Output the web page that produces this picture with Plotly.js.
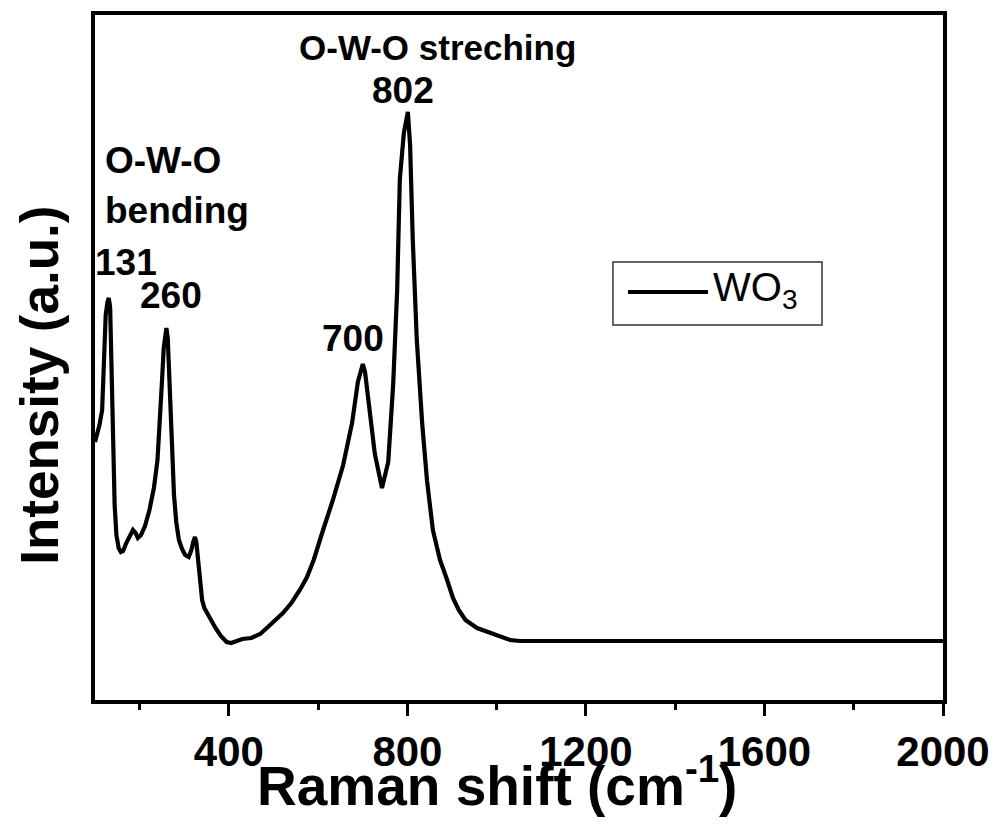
<!DOCTYPE html>
<html>
<head>
<meta charset="utf-8">
<script src="https://cdn.plot.ly/plotly-3.0.1.min.js"></script>
<style>html,body{margin:0;padding:0;background:#fff;}#chart{width:1003px;height:834px;}</style>
</head>
<body>
<div id="chart"></div>
<script>
// Raman shift (cm-1)
const ramanShift = [100,104,110,116,119,124,128,131,134,137,141,144,148,153,158,163,170,178,185,191,196,203,212,222,232,240,246,250,254,257,260,263,266,269,273,277,282,288,295,302,310,316,320,324,327,331,335,340,345,352,360,370,382,395,405,415,430,450,470,485,500,521,540,559,575,590,611,633,656,676,689,695,700,705,712,727,743,757,768,777,783,792,801,806,812,821,833,844,857,873,889,902,915,930,956,975,992,1010,1030,1052,1075,1100,1150,1200,1250,1300,1350,1400,1450,1500,1550,1600,1650,1700,1750,1800,1850,1900,1950,2000];
// Intensity (a.u.)
const intensity = [258,264,275,290,330,385,398,402,392,330,250,195,165,152,148,149,157,165,170,167,162,165,174,190,212,240,278,318,352,368,372,362,330,288,245,205,178,160,151,145,143,150,158,163,158,138,115,100,92,86,79,72,64,58,57,59,61,62,66,72,78,87,97,110,123,140,170,200,235,277,318,330,336,328,303,246,212,238,315,410,521,567,588,555,460,360,277,219,170,140,120,102,90,80,72,69,67,64,60,59,59,59,58.5,59,59.3,58.8,59,59.2,58.7,59,59.1,58.8,59,59.2,58.9,59,58.8,59.1,59,59];
const seriesName = "WO<sub>3</sub>";
const xTickVals = [400,800,1200,1600,2000];
const xTickText = ["400","800","1200","1600","2000"];
const peakLabels = ["131","260","700","802"];
const peakX = [131,260,700,802];

const FONT = "Liberation Sans, Arial, sans-serif";

const trace = {
  x: ramanShift, y: intensity, type: "scatter", mode: "lines",
  name: seriesName, line: {color: "#000", width: 4.2, shape: "linear"},
  showlegend: false
};

const ann = (text, x, y, size, opts) => Object.assign({
  text: text, x: x, y: y, xref: "x", yref: "y", showarrow: false,
  font: {family: FONT, size: size, color: "#000", weight: "bold"},
  xanchor: "center", yanchor: "middle"
}, opts || {});

const annotations = [
  ann(peakLabels[0], peakX[0] + 39, 438, 37),
  ann(peakLabels[1], peakX[1] + 10, 405, 37),
  ann(peakLabels[2], peakX[2] - 22, 362, 37),
  ann(peakLabels[3], peakX[3] - 12, 610, 37),
  ann("O-W-O streching", 868, 653, 35),
  ann("O-W-O", 118, 540, 37, {xanchor: "left"}),
  ann("bending", 118, 490, 37, {xanchor: "left"}),
  // y axis title
  {text: "Intensity (a.u.)", xref: "paper", yref: "paper", x: -0.065, y: 0.46,
   showarrow: false, textangle: -90, xanchor: "center", yanchor: "middle",
   font: {family: FONT, size: 53, color: "#000", weight: "bold"}},
  // x axis title
  {text: "Raman shift (cm<sup>-1</sup>)", xref: "paper", yref: "paper", x: 0.474, y: -0.12,
   showarrow: false, xanchor: "center", yanchor: "middle",
   font: {family: FONT, size: 55, color: "#000", weight: "bold"}},
  // legend text
  {text: seriesName, xref: "paper", yref: "paper", x: 0.727, y: 0.598,
   showarrow: false, xanchor: "left", yanchor: "middle",
   font: {family: FONT, size: 40, color: "#000"}}
];

const shapes = [
  {type: "rect", xref: "paper", yref: "paper", x0: 0.6108, x1: 0.8573, y0: 0.5474, y1: 0.6394,
   line: {color: "#333", width: 1.5}, fillcolor: "rgba(0,0,0,0)"},
  {type: "line", xref: "paper", yref: "paper", x0: 0.6285, x1: 0.7229, y0: 0.5956, y1: 0.5956,
   line: {color: "#000", width: 4.2}}
];

const layout = {
  width: 1003, height: 834,
  margin: {l: 95, r: 60, t: 15, b: 134},
  paper_bgcolor: "#fff", plot_bgcolor: "#fff",
  showlegend: false,
  xaxis: {
    range: [100, 2000], showgrid: false, zeroline: false,
    showline: true, mirror: true, linecolor: "#000", linewidth: 4,
    tickmode: "array", tickvals: xTickVals, ticktext: xTickText,
    ticks: "outside", ticklen: 12, tickwidth: 3, tickcolor: "#000",
    ticklabelstandoff: 0,
    minor: {tickmode: "array", tickvals: [200,600,1000,1400,1800], ticks: "outside", ticklen: 6, tickwidth: 3, tickcolor: "#000"},
    tickfont: {family: FONT, size: 42, color: "#000", weight: "bold"}
  },
  yaxis: {
    range: [0, 685], showgrid: false, zeroline: false,
    showline: true, mirror: true, linecolor: "#000", linewidth: 4,
    showticklabels: false, ticks: ""
  },
  annotations: annotations,
  shapes: shapes
};

Plotly.newPlot("chart", [trace], layout, {displayModeBar: false, staticPlot: true});
</script>
</body>
</html>
